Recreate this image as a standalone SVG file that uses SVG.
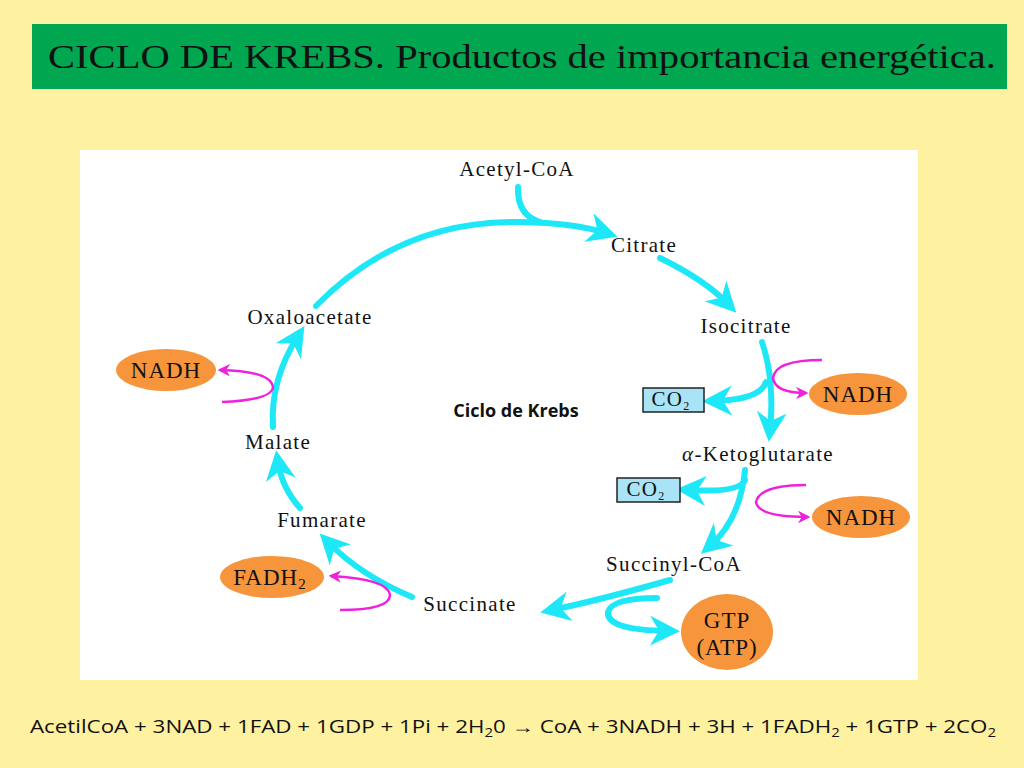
<svg xmlns="http://www.w3.org/2000/svg" width="1024" height="768" viewBox="0 0 1024 768">
<style>
.lbl{font-family:"Liberation Serif",serif;font-size:21px;fill:#111;text-anchor:middle;letter-spacing:1.3px}
.big{font-size:23px;letter-spacing:1px}
.cy{fill:none;stroke:#1EE8F8;stroke-width:6;stroke-linecap:round}
.mg{fill:none;stroke:#EE22DD;stroke-width:2.5}
.ell{fill:#F6953B}
.co2{fill:#A8E4F5;stroke:#222;stroke-width:1.5}
</style>
<defs>
<marker id="ac" viewBox="0 0 10 10" refX="6" refY="5" markerWidth="5" markerHeight="5" orient="auto"><path d="M0,0 L10,5 L0,10 L3,5 Z" fill="#1EE8F8"/></marker>
<marker id="am" viewBox="0 0 10 10" refX="8" refY="5" markerWidth="5" markerHeight="5" orient="auto"><path d="M0,0 L10,5 L0,10 L3,5 Z" fill="#EE22DD"/></marker>
</defs>
<rect width="1024" height="768" fill="#FEF2A0"/>
<rect x="32" y="24" width="975" height="65" fill="#00A650"/>
<text x="48" y="68" font-family="Liberation Serif,serif" font-size="34" fill="#111" textLength="948" lengthAdjust="spacingAndGlyphs">CICLO DE KREBS. Productos de importancia energética.</text>
<rect x="80" y="150" width="838" height="530" fill="#fff"/>
<g id="connectors">
<path class="cy" d="M518,187 Q517,215 540,222"/>
<path class="cy" d="M316,306 Q400,220 520,222 Q575,223 606,233" marker-end="url(#ac)"/>
<path class="cy" d="M660,258 Q705,280 728,304" marker-end="url(#ac)"/>
<path class="cy" d="M762,342 Q775,380 770,430" marker-end="url(#ac)"/>
<path class="cy" d="M766,382 Q760,400 714,401" marker-end="url(#ac)"/>
<path class="cy" d="M745,470 Q740,520 710,546" marker-end="url(#ac)"/>
<path class="cy" d="M745,480 Q740,493 688,490" marker-end="url(#ac)"/>
<path class="cy" d="M670,580 Q600,600 552,610" marker-end="url(#ac)"/>
<path class="cy" d="M657,598 Q612,598 608,612 Q606,630 668,631" marker-end="url(#ac)"/>
<path class="cy" d="M412,597 Q360,575 328,542" marker-end="url(#ac)"/>
<path class="cy" d="M300,508 Q282,488 278,462" marker-end="url(#ac)"/>
<path class="cy" d="M273,427 Q270,380 298,336" marker-end="url(#ac)"/>
<path class="mg" d="M822,360 Q775,360 773,378 Q775,393 806,393" marker-end="url(#am)"/>
<path class="mg" d="M806,485 Q760,485 756,502 Q758,517 808,517" marker-end="url(#am)"/>
<path class="mg" d="M222,402 Q272,400 273,387 Q271,371 220,370" marker-end="url(#am)"/>
<path class="mg" d="M340,610 Q390,610 390,595 Q388,579 331,576" marker-end="url(#am)"/>
</g>
<g id="acetyl"><text class="lbl" x="517" y="176">Acetyl-CoA</text></g>
<g id="citrate"><text class="lbl" x="644" y="252">Citrate</text></g>
<g id="isocitrate"><text class="lbl" x="746" y="333">Isocitrate</text></g>
<g id="akg"><text class="lbl" x="758" y="461"><tspan font-style="italic">α</tspan>-Ketoglutarate</text></g>
<g id="succoa"><text class="lbl" x="674" y="571">Succinyl-CoA</text></g>
<g id="succinate"><text class="lbl" x="470" y="611">Succinate</text></g>
<g id="fumarate"><text class="lbl" x="322" y="527">Fumarate</text></g>
<g id="malate"><text class="lbl" x="278" y="449">Malate</text></g>
<g id="oxalo"><text class="lbl" x="310" y="324">Oxaloacetate</text></g>
<g id="center"><text x="516" y="417" font-family="Open Sans,sans-serif" font-weight="bold" font-size="18" text-anchor="middle" fill="#111">Ciclo de Krebs</text></g>
<g id="co2a"><rect class="co2" x="643" y="388" width="61" height="24"/><text class="lbl" x="671" y="406" font-size="17">CO<tspan font-size="12" dy="4">2</tspan></text></g>
<g id="co2b"><rect class="co2" x="617" y="478" width="63" height="24"/><text class="lbl" x="646" y="496" font-size="17">CO<tspan font-size="12" dy="4">2</tspan></text></g>
<g id="nadh1"><ellipse class="ell" cx="858" cy="394" rx="49" ry="21"/><text class="lbl big" x="858" y="402">NADH</text></g>
<g id="nadh2"><ellipse class="ell" cx="861" cy="517" rx="49" ry="21"/><text class="lbl big" x="861" y="525">NADH</text></g>
<g id="nadh3"><ellipse class="ell" cx="166" cy="370" rx="50" ry="21"/><text class="lbl big" x="166" y="378">NADH</text></g>
<g id="fadh2"><ellipse class="ell" cx="272" cy="577" rx="52" ry="21"/><text class="lbl big" x="270" y="585">FADH<tspan font-size="15" dy="4">2</tspan></text></g>
<g id="gtp"><ellipse class="ell" cx="727" cy="632" rx="46" ry="38"/><text class="lbl big" x="727" y="628">GTP</text><text class="lbl big" x="727" y="655">(ATP)</text></g>
<text x="30" y="733" font-family="Open Sans,sans-serif" font-size="18" fill="#111" textLength="966" lengthAdjust="spacingAndGlyphs">AcetilCoA + 3NAD + 1FAD + 1GDP + 1Pi + 2H<tspan font-size="12" dy="4">2</tspan><tspan dy="-4">0 → CoA + 3NADH + 3H + 1FADH</tspan><tspan font-size="12" dy="4">2</tspan><tspan dy="-4"> + 1GTP + 2CO</tspan><tspan font-size="12" dy="4">2</tspan></text>
</svg>
